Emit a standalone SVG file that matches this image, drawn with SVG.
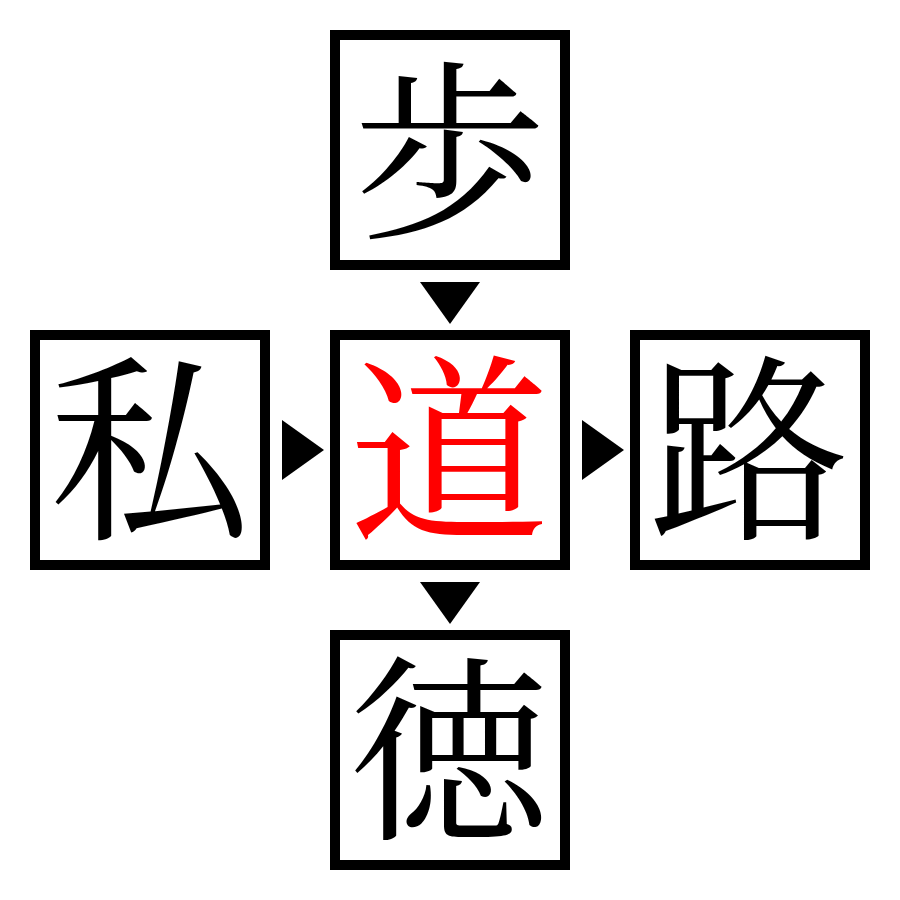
<svg xmlns="http://www.w3.org/2000/svg" width="900" height="900" viewBox="0 0 900 900">
<style>
.box{fill:#fff;stroke:#000;stroke-width:10}
.ch{font-family:"Noto Serif CJK JP","Noto Sans CJK JP",serif;font-size:200px;text-anchor:middle;fill:#000}
.arr{fill:#000}
</style>
<rect width="900" height="900" fill="#fff"/>
<g id="node-top"><rect class="box" x="335" y="35" width="230" height="230"/><text class="ch" x="450" y="224" style="font-size:193px">歩</text></g>
<g id="node-left"><rect class="box" x="35" y="335" width="230" height="230"/><text class="ch" x="149" y="524">私</text></g>
<g id="node-center"><rect class="box" x="335" y="335" width="230" height="230"/><text class="ch" x="449" y="524" style="fill:#f00">道</text></g>
<g id="node-right"><rect class="box" x="635" y="335" width="230" height="230"/><text class="ch" x="749" y="524">路</text></g>
<g id="node-bottom"><rect class="box" x="335" y="635" width="230" height="230"/><text class="ch" x="449" y="824">徳</text></g>
<g id="connectors">
<polygon class="arr" points="420,282 480,282 450,324"/>
<polygon class="arr" points="282,420 282,480 324,450"/>
<polygon class="arr" points="582,420 582,480 624,450"/>
<polygon class="arr" points="420,582 480,582 450,624"/>
</g>
</svg>
